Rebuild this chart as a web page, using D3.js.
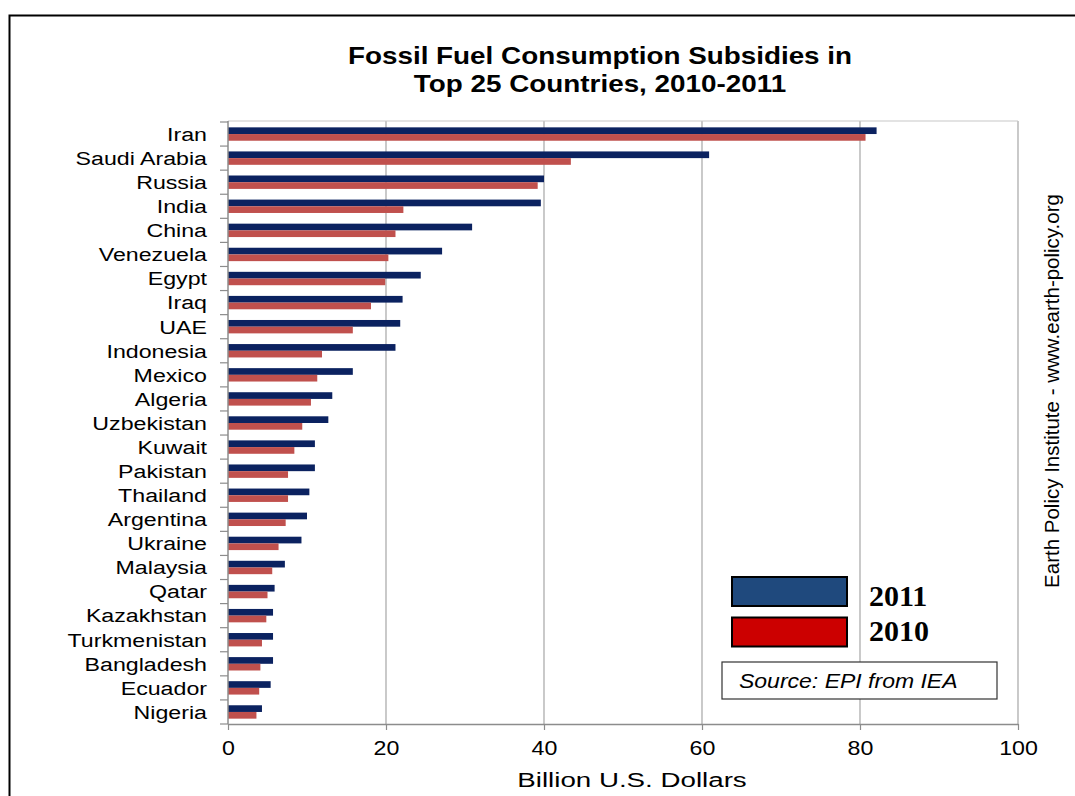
<!DOCTYPE html>
<html>
<head>
<meta charset="utf-8">
<script src="https://cdn.jsdelivr.net/npm/d3@7"></script>
<style>
  html, body { margin: 0; padding: 0; background: #fff; }
  svg { display: block; }
  text { font-family: "Liberation Sans", Arial, sans-serif; }
</style>
</head>
<body>
<svg id="chart" width="1075" height="796"></svg>
<script>
const categories = ["Iran","Saudi Arabia","Russia","India","China","Venezuela","Egypt","Iraq","UAE","Indonesia","Mexico","Algeria","Uzbekistan","Kuwait","Pakistan","Thailand","Argentina","Ukraine","Malaysia","Qatar","Kazakhstan","Turkmenistan","Bangladesh","Ecuador","Nigeria"];
const values2011 = [82.1,60.9,40.0,39.6,30.9,27.1,24.4,22.1,21.8,21.2,15.8,13.2,12.7,11.0,11.0,10.3,10.0,9.3,7.2,5.9,5.7,5.7,5.7,5.4,4.3];
const values2010 = [80.7,43.4,39.2,22.2,21.2,20.3,19.9,18.1,15.8,11.9,11.3,10.5,9.4,8.4,7.6,7.6,7.3,6.4,5.6,5.0,4.85,4.3,4.1,3.95,3.6];
const seriesNames = ["2011","2010"];
const xTicks = [0,20,40,60,80,100];
const titleLines = ["Fossil Fuel Consumption Subsidies in","Top 25 Countries, 2010-2011"];
const xAxisTitle = "Billion U.S. Dollars";
const sourceText = "Source: EPI from IEA";
const sideText = "Earth Policy Institute - www.earth-policy.org";

const barColors = {"2011": "#0b2260", "2010": "#c0504d"};
const legendColors = {"2011": "#1f497d", "2010": "#cc0000"};

const svg = d3.select("#chart");

// outer frame
svg.append("path").attr("d", "M9.5,796 L9.5,15.5 L1075,15.5")
  .attr("fill", "none").attr("stroke", "#000").attr("stroke-width", 2);

const pLeft = 228, pRight = 1018, pTop = 122, pBottom = 724;
const x = d3.scaleLinear().domain([0, 100]).range([pLeft, pRight]);
const y = d3.scaleBand().domain(categories).range([pTop, pBottom]).paddingInner(0.444).paddingOuter(0.222);
const ySub = d3.scaleBand().domain(seriesNames).range([0, y.bandwidth()]);

// gridlines
svg.append("g").selectAll("line").data(xTicks.filter(d => d > 0)).join("line")
  .attr("x1", d => x(d)).attr("x2", d => x(d))
  .attr("y1", pTop - 1).attr("y2", pBottom)
  .attr("stroke", "#a6a6a6").attr("stroke-width", 1.2);
// top border
svg.append("line").attr("x1", pLeft).attr("x2", pRight).attr("y1", pTop - 1).attr("y2", pTop - 1)
  .attr("stroke", "#c8c8c8").attr("stroke-width", 1.2);

// bars
const rows = categories.map((c, i) => ({c, v: {"2011": values2011[i], "2010": values2010[i]}}));
const g = svg.append("g");
seriesNames.forEach(s => {
  g.selectAll("rect.s" + s).data(rows).join("rect")
    .attr("class", "s" + s)
    .attr("x", x(0))
    .attr("y", d => y(d.c) + ySub(s))
    .attr("width", d => x(d.v[s]) - x(0))
    .attr("height", ySub.bandwidth())
    .attr("fill", barColors[s]);
});

// x axis
const xAxis = svg.append("g").attr("transform", `translate(0,${pBottom})`)
  .call(d3.axisBottom(x).tickValues(xTicks).tickSize(6).tickSizeOuter(0));
xAxis.select(".domain").attr("stroke", "#8c8c8c").attr("stroke-width", 1.5);
xAxis.selectAll(".tick line").attr("stroke", "#8c8c8c").attr("stroke-width", 1.2);
xAxis.selectAll(".tick text")
  .attr("y", 17).attr("dy", "0.71em")
  .attr("font-size", 20).attr("fill", "#000")
  .attr("transform", "scale(1.16,1)");

// y axis line and ticks at band boundaries
svg.append("line").attr("x1", pLeft).attr("x2", pLeft).attr("y1", pTop - 1).attr("y2", pBottom)
  .attr("stroke", "#8c8c8c").attr("stroke-width", 1.5);
const bounds = categories.map(c => y(c) - y.paddingInner() * y.step() / 2).concat([pBottom]);
svg.append("g").selectAll("line").data(bounds).join("line")
  .attr("x1", pLeft - 8).attr("x2", pLeft).attr("y1", d => d).attr("y2", d => d)
  .attr("stroke", "#8c8c8c").attr("stroke-width", 1.2);

// category labels
svg.append("g").selectAll("text").data(categories).join("text")
  .attr("transform", d => `translate(207,${y(d) + y.bandwidth() / 2}) scale(1.22,1)`)
  .attr("dy", "0.36em")
  .attr("text-anchor", "end")
  .attr("font-size", 19)
  .attr("fill", "#000")
  .text(d => d);

// title
svg.append("g").selectAll("text").data(titleLines).join("text")
  .attr("transform", (d, i) => `translate(600,${64 + i * 28}) scale(1.16,1)`)
  .attr("text-anchor", "middle")
  .attr("font-size", 24)
  .attr("font-weight", "bold")
  .attr("fill", "#000")
  .text(d => d);

// x axis title
svg.append("text")
  .attr("transform", "translate(632,787) scale(1.32,1)")
  .attr("text-anchor", "middle")
  .attr("font-size", 21)
  .attr("fill", "#000")
  .text(xAxisTitle);

// side text
svg.append("text")
  .attr("transform", "translate(1059,391) rotate(-90)")
  .attr("text-anchor", "middle")
  .attr("font-size", 20.5)
  .attr("fill", "#000")
  .text(sideText);

// legend
const legend = svg.append("g");
seriesNames.forEach((s, i) => {
  legend.append("rect")
    .attr("x", 732).attr("y", 577 + i * 40.5)
    .attr("width", 115).attr("height", 29)
    .attr("fill", legendColors[s]).attr("stroke", "#000").attr("stroke-width", 2);
  legend.append("text")
    .attr("x", 869).attr("y", 606 + i * 35)
    .style("font-family", "'Liberation Serif', 'Times New Roman', serif")
    .attr("font-weight", "bold")
    .attr("font-size", 30)
    .attr("fill", "#000")
    .text(s);
});

// source box
svg.append("rect").attr("x", 722).attr("y", 662).attr("width", 275).attr("height", 37)
  .attr("fill", "#fff").attr("stroke", "#333").attr("stroke-width", 1.2);
svg.append("text")
  .attr("transform", "translate(739,688) scale(1.18,1)")
  .attr("font-size", 19.5)
  .attr("font-style", "italic")
  .attr("fill", "#000")
  .text(sourceText);
</script>
</body>
</html>
